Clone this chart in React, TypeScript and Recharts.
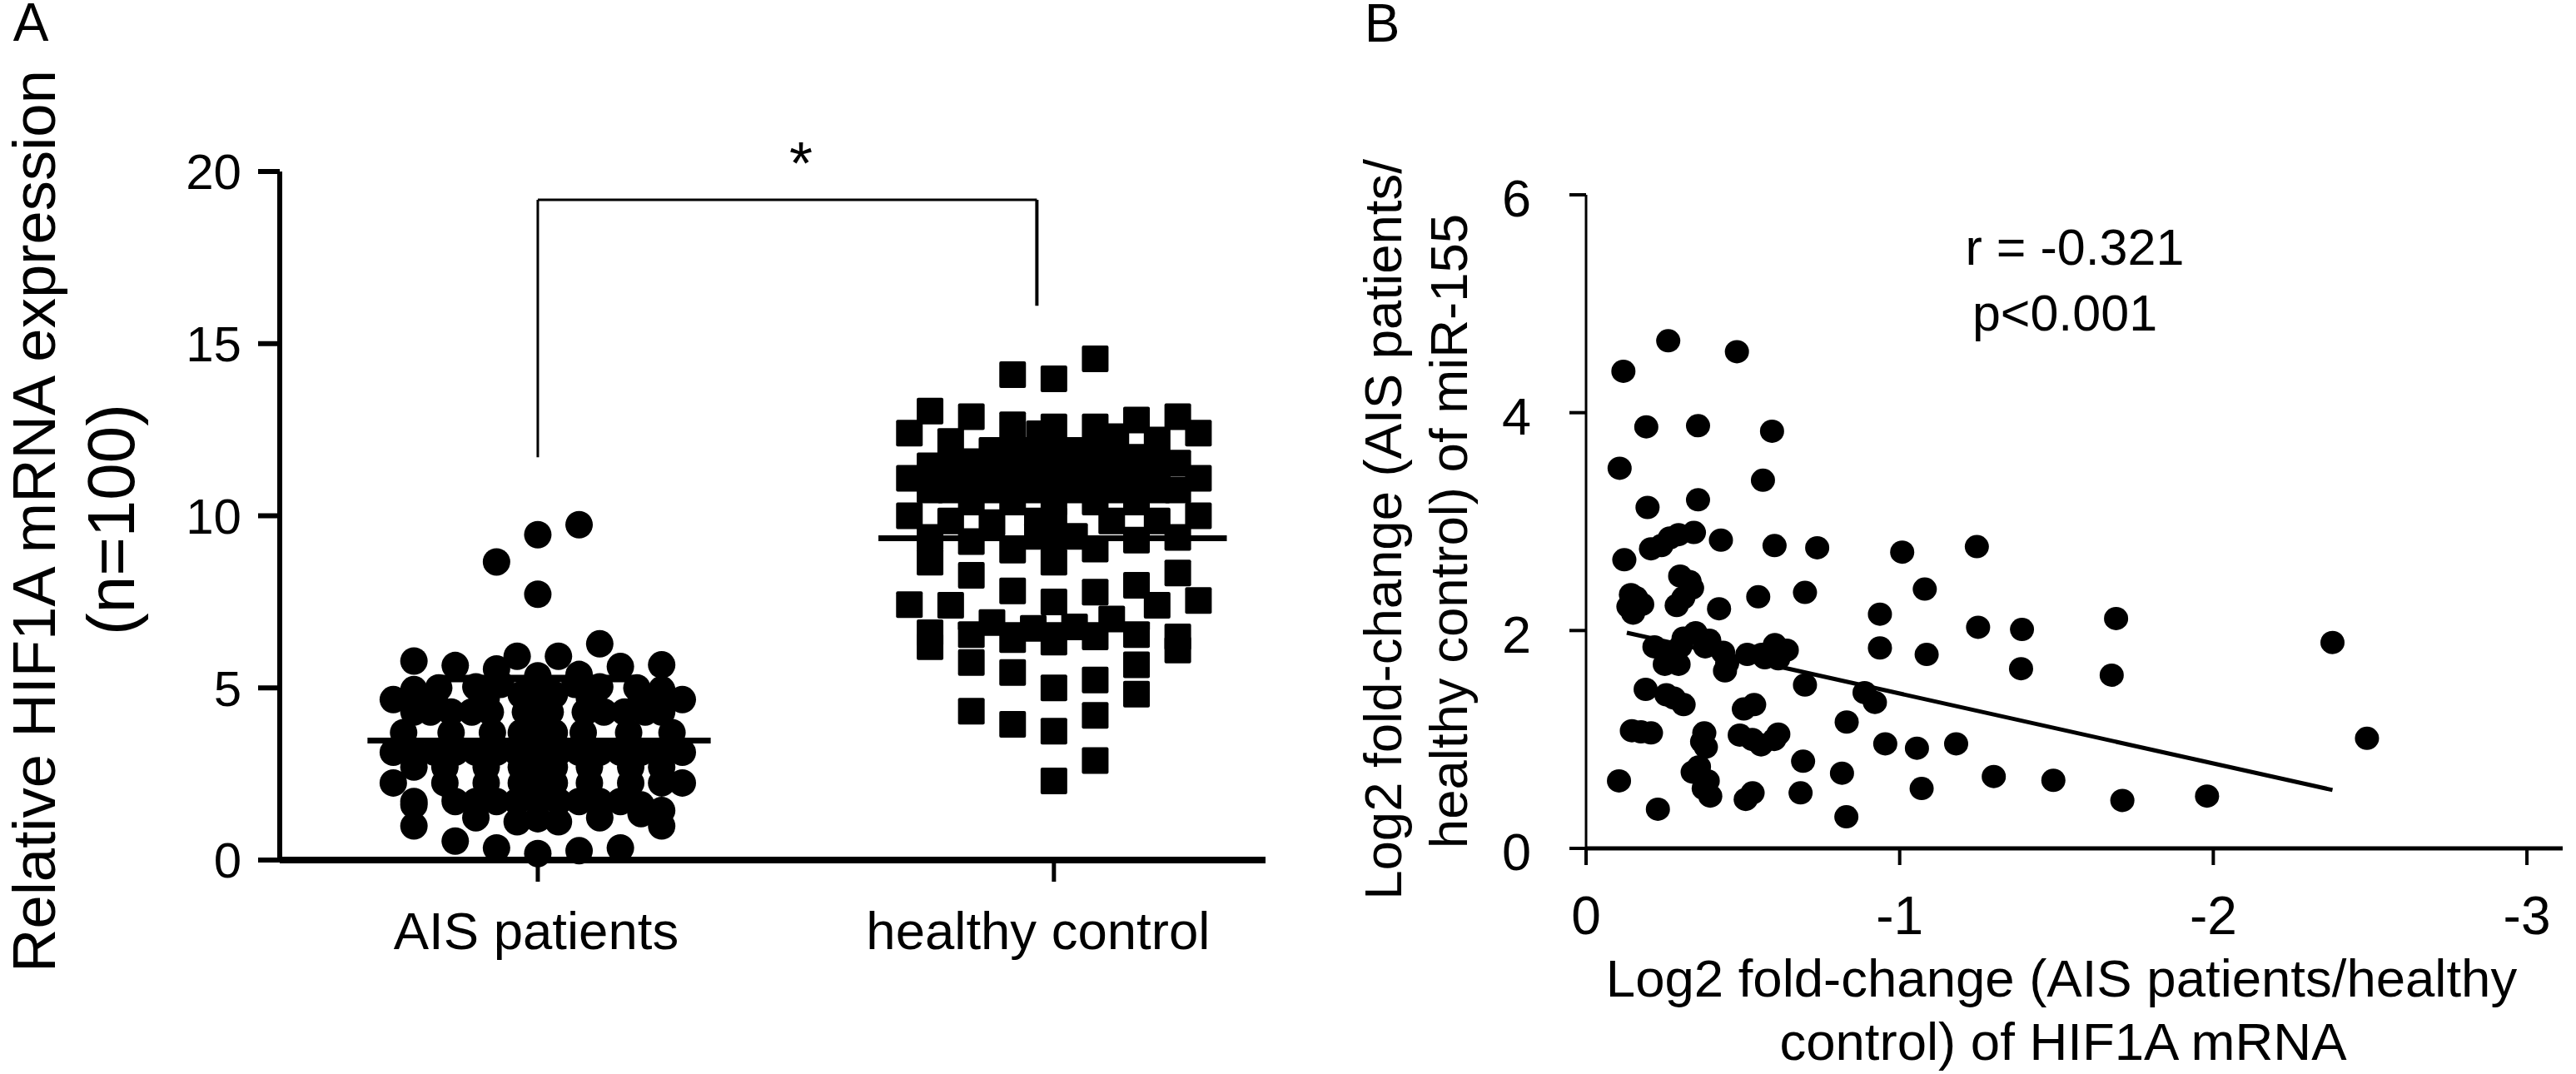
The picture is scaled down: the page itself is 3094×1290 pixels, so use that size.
import { ScatterChart, Scatter, XAxis, YAxis, ReferenceLine } from 'recharts'

const FONT = '"Liberation Sans", Arial, sans-serif'

const groupLabels: Record<number, string> = { 1: 'AIS patients', 2: 'healthy control' }

// swarm column of each point (1 column = 0.08 x units), then the value
const aisColumns = [
  0, 1, -1, 0, 1.5,
  -3, -2, -0.5, 0.5, -1, 1, 0, 2, 3,
  -3, 3, -1.5, -2.4, 1.5, 2.4, -0.9, 0.9,
  -3.5, 3.5, -2.5, -1.25, -0.4, 0, 0.4, 1.25, 2.5,
  -3, -2.6, -2.1, -1.6, -1.15, -0.3, 0, 0.3, 1.15, 1.6, 2.1, 2.6, 3,
  -3.25, -2.1, -1.1, -0.4, 0, 0.4, 1.1, 2.2, 3.25,
  -3.5, -3, -2.5, -2, -1.5, -1, -0.5, 0, 0.5, 1, 1.5, 2, 2.5, 3, 3.5,
  -3, -2.25, -1.25, -0.4, 0, 0.4, 1.25, 2.25, 3,
  -3.5, 3.5, -2.25, -1.25, -0.4, 0, 0.4, 1.25, 2.25, 3,
  -3, -2, -1.5, -1, -0.5, 0, 0.5, 1, 1.5, 2, 2.5,
  -3, 3, -1.5, 1.5, 2.5, -0.5, 0.5, 0,
  -3, 3, -2, -1, 0, 1, 2,
]
const aisValues = [
  9.45, 9.74, 8.66, 7.72, 6.28,
  5.78, 5.65, 5.92, 5.92, 5.55, 5.39, 5.35, 5.62, 5.67,
  4.95, 4.95, 5.03, 5.0, 5.03, 5.0, 5.1, 5.1,
  4.66, 4.66, 4.6, 4.7, 4.8, 4.8, 4.8, 4.7, 4.6,
  4.3, 4.3, 4.3, 4.3, 4.3, 4.3, 4.3, 4.3, 4.3, 4.3, 4.3, 4.3, 4.3,
  3.7, 3.7, 3.7, 3.7, 3.7, 3.7, 3.7, 3.7, 3.7,
  3.13, 3.13, 3.13, 3.13, 3.13, 3.13, 3.13, 3.13, 3.13, 3.13, 3.13, 3.13, 3.13, 3.13, 3.13,
  2.7, 2.7, 2.7, 2.7, 2.7, 2.7, 2.7, 2.7, 2.7,
  2.24, 2.24, 2.24, 2.24, 2.24, 2.24, 2.24, 2.24, 2.24, 2.24,
  1.7, 1.7, 1.7, 1.7, 1.7, 1.7, 1.7, 1.7, 1.7, 1.7, 1.6,
  1.6, 1.44, 1.23, 1.23, 1.35, 1.11, 1.11, 1.2,
  0.99, 0.99, 0.55, 0.35, 0.19, 0.27, 0.35,
]

const controlColumns = [
  -1, 0, 1,
  -3, -2, -1, 0, 1, 2, 3, -3.5, 3.5,
  -2.5, -0.35, 1.5, 2.5,
  -1.5, -1, -0.5, 0, 0.5, 1, 2,
  -3, -2.5, -2, -1.5, -1, -0.5, 0, 0.5, 1, 1.5, 2, 2.5, 3,
  -3.5, -2.5, -1.5, -0.5, 0.5, 1.5, 2.5, 3.5,
  -3, -2.5, -2, -1.5, -1, -0.5, 0, 0.5, 1, 1.5, 2, 2.5, 3,
  -2, -1, 0, 1, 2, -3.5, 3.5,
  -2.5, -1.5, -0.4, 0, 1.4, 2.5,
  -3, -2, -1, -0.4, 0, 0.5, 1, 2, 3,
  -3, -2, -1, 0, 0, 1, 3, 2, 3.5, -3.5, -2.5, 2.5,
  -3, -3, -1.5, -0.5, 1.4, -2, -2, -1, 0, 1, 0.5, 2, 3, 3,
  -1, -1, -2, 0, 0, 0, 1, 1, 1, 2, 2,
]
const controlValues = [
  14.1, 13.98, 14.56,
  13.04, 12.88, 12.64, 12.58, 12.58, 12.78, 12.88, 12.4, 12.4,
  12.16, 12.38, 12.3, 12.2,
  11.9, 11.9, 11.9, 11.9, 11.9, 11.9, 11.7,
  11.45, 11.45, 11.45, 11.45, 11.45, 11.45, 11.45, 11.45, 11.45, 11.45, 11.45, 11.45, 11.53,
  11.09, 11.09, 11.09, 11.09, 11.09, 11.09, 11.09, 11.09,
  10.75, 10.75, 10.75, 10.75, 10.75, 10.75, 10.75, 10.75, 10.75, 10.75, 10.75, 10.75, 10.75,
  10.4, 10.4, 10.4, 10.4, 10.4, 10, 10,
  9.85, 9.8, 9.85, 9.85, 9.85, 9.85,
  9.37, 9.25, 9.0, 9.4, 9.4, 9.4, 9.03, 9.29, 9.37,
  8.65, 8.27, 7.82, 8.65, 7.5, 7.78, 8.34, 7.98, 7.54, 7.42, 7.4, 7.4,
  6.6, 6.2, 6.9, 6.73, 7, 6.55, 5.74, 6.4, 6.33, 6.48, 6.77, 6.55, 6.48, 6.1,
  5.45, 3.94, 4.32, 5, 3.74, 2.3, 5.23, 4.2, 2.89, 5.67, 4.82,
]

const hif1aFold = [
  -0.119, -0.262, -0.481, -0.192, -0.357, -0.593, -0.107, -0.564, -0.196, -0.357, -0.122,
  -0.207, -0.24, -0.267, -0.295, -0.344, -0.43, -0.601, -0.737, -1.008,
  -0.3, -0.33, -0.338, -0.31, -0.289, -0.143, -0.16, -0.135, -0.15, -0.179, -0.424, -0.549, -0.698, -0.937, -0.937,
  -0.218, -0.26, -0.251, -0.295, -0.3, -0.311, -0.349, -0.38, -0.393, -0.437, -0.45, -0.443, -0.514, -0.56, -0.602, -0.57, -0.64, -0.613,
  -0.698, -0.888, -0.921, -0.19, -0.256, -0.28, -0.311, -0.536, -0.503, -0.831,
  -0.146, -0.175, -0.207, -0.377, -0.37, -0.382, -0.49, -0.53, -0.558, -0.6, -0.613, -0.954, -0.692,
  -0.105, -0.34, -0.36, -0.375, -0.388, -0.816, -0.396, -0.229, -0.509, -0.531, -0.684, -0.83,
  -1.246, -1.08, -1.25, -1.39, -1.69, -2.38, -1.086, -1.387, -1.676, -2.49,
  -1.055, -1.18, -1.3, -1.49, -1.71, -1.98, -1.07,
]
const mir155Fold = [
  4.38, 4.66, 4.56, 3.87, 3.88, 3.83, 3.49, 3.38, 3.13, 3.2, 2.65,
  2.75, 2.78, 2.85, 2.88, 2.9, 2.83, 2.78, 2.76, 2.72,
  2.5, 2.45, 2.39, 2.3, 2.23, 2.33, 2.3, 2.22, 2.16, 2.24, 2.2, 2.31, 2.35, 2.15, 1.84,
  1.85, 1.8, 1.69, 1.69, 1.85, 1.93, 1.98, 1.85, 1.91, 1.8, 1.7, 1.63, 1.78, 1.78, 1.87, 1.75, 1.82, 1.74,
  1.5, 1.43, 1.34, 1.46, 1.41, 1.38, 1.32, 1.32, 1.28, 1.16,
  1.08, 1.07, 1.06, 1.06, 0.98, 0.93, 1.04, 1.0, 0.95, 1.0, 1.05, 0.96, 0.8,
  0.62, 0.7, 0.75, 0.55, 0.62, 0.69, 0.48, 0.36, 0.45, 0.51, 0.51, 0.29,
  2.77, 2.38, 2.03, 2.01, 2.11, 1.89, 1.78, 1.65, 1.59, 1.01,
  0.92, 0.96, 0.66, 0.625, 0.44, 0.48, 0.55,
]

const COLUMN_STEP = 0.08
const aisData = aisValues.map((y, i) => ({ x: 1 + aisColumns[i] * COLUMN_STEP, y }))
const controlData = controlValues.map((y, i) => ({ x: 2 + controlColumns[i] * COLUMN_STEP, y }))
const correlationData = mir155Fold.map((y, i) => ({ x: hif1aFold[i], y }))

const tickStyle = { fontFamily: FONT, fill: '#000' }

function Dot(props: any) {
  return <circle cx={props.cx} cy={props.cy} r={16.5} fill="#000" />
}
function SmallDot(props: any) {
  return <ellipse cx={props.cx} cy={props.cy} rx={14.5} ry={14} fill="#000" />
}
function Square(props: any) {
  return <rect x={props.cx - 16} y={props.cy - 16} width={32} height={32} rx={2} fill="#000" />
}

// group labels sit a little off their ticks in the figure
function GroupTick(props: any) {
  const { x, y, payload } = props
  const shift = payload.value === 2 ? -19 : -2
  return (
    <text x={x + shift} y={y} dy="0.71em" textAnchor="middle" fontSize={63.5} {...tickStyle}>
      {groupLabels[payload.value]}
    </text>
  )
}

function seg(x1: number, y1: number, x2: number, y2: number) {
  return [{ x: x1, y: y1 }, { x: x2, y: y2 }] as any
}

function PanelA() {
  return (
    <ScatterChart width={1600} height={1290} margin={{ top: 206, right: 80, bottom: 157, left: 236 }} style={{ position: 'absolute', left: 0, top: 0 }}>
      <XAxis
        type="number"
        dataKey="x"
        domain={[0.5, 2.41]}
        ticks={[1, 2]}
        height={100}
        allowDataOverflow
        tick={GroupTick}
        tickSize={26}
        tickMargin={36}
        axisLine={{ stroke: '#000', strokeWidth: 8 }}
        tickLine={{ stroke: '#000', strokeWidth: 5 }}
      />
      <YAxis
        type="number"
        dataKey="y"
        domain={[0, 20]}
        ticks={[0, 5, 10, 15, 20]}
        width={100}
        tick={{ ...tickStyle, fontSize: 60 }}
        tickSize={26}
        tickMargin={20}
        axisLine={{ stroke: '#000', strokeWidth: 6 }}
        tickLine={{ stroke: '#000', strokeWidth: 6 }}
      />
      <Scatter data={aisData} shape={Dot} isAnimationActive={false} />
      <Scatter data={controlData} shape={Square} isAnimationActive={false} />
      <ReferenceLine segment={seg(0.67, 3.47, 1.335, 3.47)} stroke="#000" strokeWidth={7} />
      <ReferenceLine segment={seg(0.814, 5.27, 1.186, 5.27)} stroke="#000" strokeWidth={9} />
      <ReferenceLine segment={seg(0.814, 1.8, 1.186, 1.8)} stroke="#000" strokeWidth={9} />
      <ReferenceLine segment={seg(1.66, 9.35, 2.335, 9.35)} stroke="#000" strokeWidth={7} />
      <ReferenceLine segment={seg(1.814, 11.85, 2.186, 11.85)} stroke="#000" strokeWidth={9} />
      <ReferenceLine segment={seg(1.814, 6.8, 2.186, 6.8)} stroke="#000" strokeWidth={9} />
      <ReferenceLine segment={seg(1, 19.18, 1, 11.7)} stroke="#000" strokeWidth={3} />
      <ReferenceLine segment={seg(1, 19.18, 1.967, 19.18)} stroke="#000" strokeWidth={3} />
      <ReferenceLine segment={seg(1.967, 19.18, 1.967, 16.1)} stroke="#000" strokeWidth={4} />
    </ScatterChart>
  )
}

function PanelB() {
  return (
    <ScatterChart width={1494} height={1290} margin={{ top: 234, right: 16, bottom: 171, left: 205 }} style={{ position: 'absolute', left: 1600, top: 0 }}>
      <XAxis
        type="number"
        dataKey="x"
        domain={[-3.114, 0]}
        reversed
        ticks={[0, -1, -2, -3]}
        height={100}
        allowDataOverflow
        tick={{ ...tickStyle, fontSize: 64 }}
        tickSize={20}
        tickMargin={38}
        axisLine={{ stroke: '#000', strokeWidth: 5 }}
        tickLine={{ stroke: '#000', strokeWidth: 4 }}
      />
      <YAxis
        type="number"
        dataKey="y"
        domain={[0, 6]}
        ticks={[0, 2, 4, 6]}
        width={100}
        tick={{ ...tickStyle, fontSize: 63, dy: 4 }}
        tickSize={20}
        tickMargin={46}
        axisLine={{ stroke: '#000', strokeWidth: 3 }}
        tickLine={{ stroke: '#000', strokeWidth: 4 }}
      />
      <Scatter data={correlationData} shape={SmallDot} isAnimationActive={false} />
      <ReferenceLine segment={seg(-0.13, 1.98, -2.38, 0.536)} stroke="#000" strokeWidth={5} />
    </ScatterChart>
  )
}

function Annotations() {
  const t = { fontFamily: FONT, fill: '#000', textAnchor: 'middle' as const }
  return (
    <svg width={3094} height={1290} style={{ position: 'absolute', left: 0, top: 0, pointerEvents: 'none' }}>
      <text x={37} y={49} fontSize={64} {...t}>A</text>
      <text x={1660} y={50} fontSize={64} {...t}>B</text>
      <text x={962} y={221} fontSize={72} {...t}>*</text>
      <text transform="translate(66 626) rotate(-90)" fontSize={72.5} {...t}>Relative HIF1A mRNA expression</text>
      <text transform="translate(161 624) rotate(-90)" fontSize={80} {...t}>(n=100)</text>
      <text transform="translate(1683 636) rotate(-90)" fontSize={63.5} {...t}>Log2 fold-change (AIS patients/</text>
      <text transform="translate(1762 638) rotate(-90)" fontSize={63.5} {...t}>healthy control) of miR-155</text>
      <text x={2476} y={1197} fontSize={63.5} {...t}>Log2 fold-change (AIS patients/healthy</text>
      <text x={2478} y={1273} fontSize={63.5} {...t}>control) of HIF1A mRNA</text>
      <text x={2492} y={318} fontSize={61} {...t}>r = -0.321</text>
      <text x={2480} y={397} fontSize={61} {...t}>p&lt;0.001</text>
    </svg>
  )
}

export default function App() {
  return (
    <div style={{ position: 'absolute', left: 0, top: 0, width: 3094, height: 1290, background: '#fff', overflow: 'hidden' }}>
      <PanelA />
      <PanelB />
      <Annotations />
    </div>
  )
}
